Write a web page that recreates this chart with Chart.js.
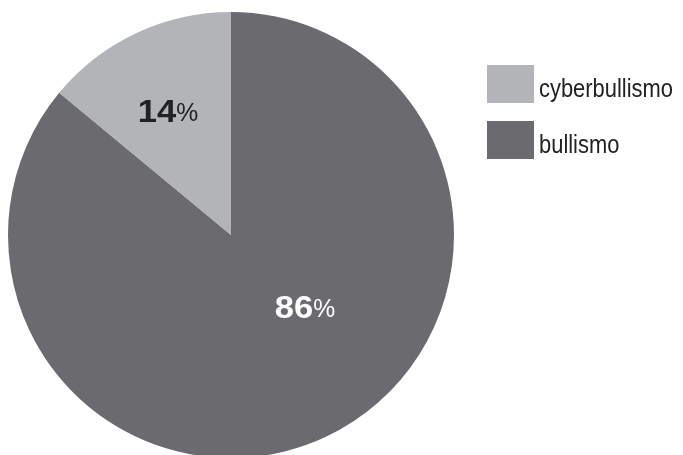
<!DOCTYPE html>
<html>
<head>
<meta charset="utf-8">
<script src="https://cdn.jsdelivr.net/npm/chart.js@4"></script>
<style>
  html, body { margin: 0; padding: 0; background: #fff; overflow: hidden; }
  #wrap { position: relative; width: 683px; height: 462px; }
</style>
</head>
<body>
<div id="wrap"><canvas id="myChart"></canvas></div>
<script>
// data (slices run clockwise from 12 o'clock)
const categories = ['bullismo', 'cyberbullismo'];
const percentages = [86, 14];
const sliceColors = ['#6b6b6f', '#b3b4b8'];
const labelColors = ['#ffffff', '#222222'];
const legendOrder = [1, 0]; // cyberbullismo first

// label offsets from pie centre
const labelOffsets = [[74, 71], [-63, -125]];

// text squeezed horizontally to mimic the condensed face of the original
function squeezedText(ctx, text, x, y, font, scaleX) {
    ctx.save();
    ctx.font = font;
    ctx.translate(x, y);
    ctx.scale(scaleX, 1);
    ctx.fillText(text, 0, 0);
    ctx.restore();
    ctx.font = font;
    return ctx.measureText(text).width * scaleX;
}

const labelPlugin = {
    id: 'labels',
    afterDatasetsDraw(chart) {
        const ctx = chart.ctx;
        const meta = chart.getDatasetMeta(0);
        ctx.save();
        ctx.textBaseline = 'alphabetic';
        ctx.textAlign = 'left';
        const numFont = 'bold 32px "Liberation Sans", sans-serif';
        const pctFont = '26px "Liberation Sans", sans-serif';
        meta.data.forEach((arc, i) => {
            const x = arc.x + labelOffsets[i][0];
            const y = arc.y + labelOffsets[i][1];
            const num = String(percentages[i]);
            ctx.font = numFont;
            const w1 = ctx.measureText(num).width * 1.08;
            ctx.font = pctFont;
            const w2 = ctx.measureText('%').width * 0.95;
            const left = x - (w1 + w2) / 2;
            ctx.fillStyle = labelColors[i];
            squeezedText(ctx, num, left, y + 12, numFont, 1.08);
            squeezedText(ctx, '%', left + w1, y + 11, pctFont, 0.95);
        });

        // legend
        const legFont = '25px "Liberation Sans", sans-serif';
        ctx.font = legFont;
        const sx = 134 / ctx.measureText('cyberbullismo').width;
        legendOrder.forEach((idx, row) => {
            const top = 65 + row * 56;
            ctx.fillStyle = sliceColors[idx];
            ctx.fillRect(487, top, 47, 38);
            ctx.fillStyle = '#222222';
            squeezedText(ctx, categories[idx], 539, top + 32, legFont, sx);
        });
        ctx.restore();
    }
};

new Chart(document.getElementById('myChart'), {
    type: 'pie',
    data: {
        labels: categories,
        datasets: [{
            data: percentages,
            backgroundColor: sliceColors,
            borderWidth: 0
        }]
    },
    options: {
        responsive: true,
        maintainAspectRatio: false,
        animation: false,
        layout: { padding: { left: 8, top: 12, right: 229, bottom: 4 } },
        plugins: {
            legend: { display: false },
            tooltip: { enabled: false }
        }
    },
    plugins: [labelPlugin]
});
</script>
</body>
</html>
